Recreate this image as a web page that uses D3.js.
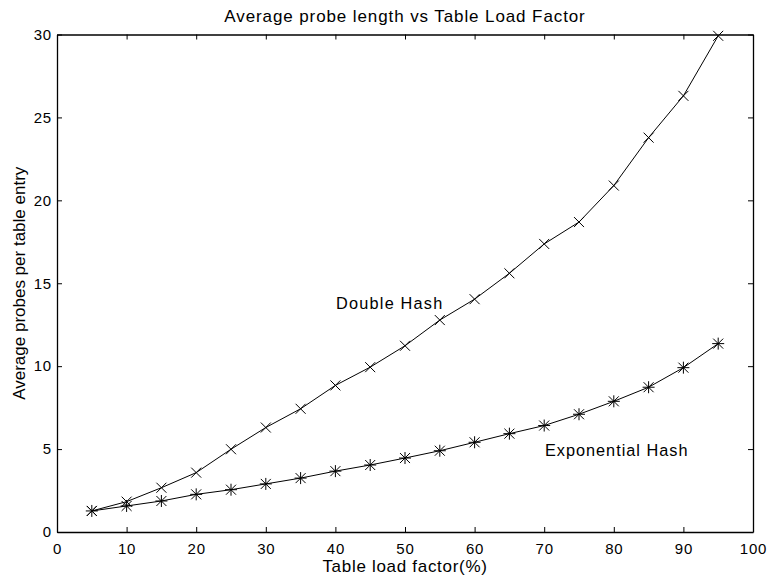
<!DOCTYPE html>
<html>
<head>
<meta charset="utf-8">
<script src="https://cdn.jsdelivr.net/npm/d3@7"></script>
<style>
  body { margin: 0; background: #fff; }
  text { font-family: "Liberation Sans", Arial, sans-serif; fill: #000; }
</style>
</head>
<body>
<div id="chart"></div>
<script>
// ====================
// Data
// ====================
const loadFactor = [5, 10, 15, 20, 25, 30, 35, 40, 45, 50, 55, 60, 65, 70, 75, 80, 85, 90, 95];
const doubleHash = [1.27, 1.83, 2.67, 3.58, 4.99, 6.3, 7.43, 8.84, 9.94, 11.23, 12.78, 14.04, 15.6, 17.37, 18.69, 20.89, 23.78, 26.3, 29.92];
const expHash    = [1.27, 1.57, 1.87, 2.27, 2.55, 2.9, 3.25, 3.67, 4.04, 4.46, 4.9, 5.41, 5.93, 6.42, 7.1, 7.88, 8.73, 9.91, 11.36];
const xTicks = [0, 10, 20, 30, 40, 50, 60, 70, 80, 90, 100];
const yTicks = [0, 5, 10, 15, 20, 25, 30];

const width = 770, height = 580;
const margin = { left: 57, right: 17, top: 34.5, bottom: 48 };

const svg = d3.select("#chart")
    .append("svg")
    .attr("width", width)
    .attr("height", height);

const x = d3.scaleLinear().domain([0, 100]).range([margin.left, width - margin.right]);
const y = d3.scaleLinear().domain([0, 30]).range([height - margin.bottom, margin.top]);

// Axes (ticks point inward, box on all four sides)
const tickLen = 5;
const fmt = d3.format("d");

const gBottom = svg.append("g")
    .attr("transform", `translate(0,${y(0)})`)
    .call(d3.axisBottom(x).tickValues(xTicks).tickSizeInner(-tickLen).tickSizeOuter(0).tickPadding(11).tickFormat(fmt));
const gTop = svg.append("g")
    .attr("transform", `translate(0,${y(30)})`)
    .call(d3.axisTop(x).tickValues(xTicks).tickSizeInner(-tickLen).tickSizeOuter(0).tickFormat(""));
const gLeft = svg.append("g")
    .attr("transform", `translate(${x(0)},0)`)
    .call(d3.axisLeft(y).tickValues(yTicks).tickSizeInner(-tickLen).tickSizeOuter(0).tickPadding(5).tickFormat(fmt));
const gRight = svg.append("g")
    .attr("transform", `translate(${x(100)},0)`)
    .call(d3.axisRight(y).tickValues(yTicks).tickSizeInner(-tickLen).tickSizeOuter(0).tickFormat(""));

[gBottom, gTop, gLeft, gRight].forEach(g => {
    g.select(".domain").attr("stroke", "#000").attr("stroke-width", 1.3);
    g.selectAll(".tick line").attr("stroke", "#000");
    g.selectAll(".tick text")
        .attr("font-size", 15)
        .attr("letter-spacing", 0.8)
        .attr("font-family", "Liberation Sans, Arial, sans-serif");
});

// Labels
svg.append("text")
    .attr("x", (x(0) + x(100)) / 2)
    .attr("y", 22)
    .attr("text-anchor", "middle")
    .attr("font-size", 17)
    .attr("letter-spacing", 0.9)
    .text("Average probe length vs Table Load Factor");

svg.append("text")
    .attr("x", (x(0) + x(100)) / 2)
    .attr("y", 572)
    .attr("text-anchor", "middle")
    .attr("font-size", 17)
    .attr("letter-spacing", 0.7)
    .text("Table load factor(%)");

svg.append("text")
    .attr("transform", `translate(25,${(y(0) + y(30)) / 2}) rotate(-90)`)
    .attr("text-anchor", "middle")
    .attr("font-size", 17)
    .text("Average probes per table entry");

// Lines
const line = d3.line()
    .x(d => x(d[0]))
    .y(d => y(d[1]));

const seriesDouble = loadFactor.map((lf, i) => [lf, doubleHash[i]]);
const seriesExp = loadFactor.map((lf, i) => [lf, expHash[i]]);

[seriesDouble, seriesExp].forEach(s => {
    svg.append("path")
        .datum(s)
        .attr("d", line)
        .attr("fill", "none")
        .attr("stroke", "#000")
        .attr("stroke-width", 1);
});

// Markers: x for double hash, * for exponential hash
const m = 5;
svg.append("g").selectAll("path")
    .data(seriesDouble)
    .join("path")
    .attr("transform", d => `translate(${x(d[0])},${y(d[1])})`)
    .attr("d", `M${-m},${-m}L${m},${m}M${-m},${m}L${m},${-m}`)
    .attr("stroke", "#000")
    .attr("stroke-width", 1);

svg.append("g").selectAll("path")
    .data(seriesExp)
    .join("path")
    .attr("transform", d => `translate(${x(d[0])},${y(d[1])})`)
    .attr("d", `M${-m},${-m}L${m},${m}M${-m},${m}L${m},${-m}M0,${-m - 1}L0,${m + 1}M${-m - 1},0L${m + 1},0`)
    .attr("stroke", "#000")
    .attr("stroke-width", 1);

// Annotations
svg.append("text")
    .attr("x", x(40.1))
    .attr("y", y(13.45))
    .attr("font-size", 16.3)
    .attr("letter-spacing", 1.2)
    .text("Double Hash");

svg.append("text")
    .attr("x", x(70.1))
    .attr("y", y(4.58))
    .attr("font-size", 16.3)
    .attr("letter-spacing", 1.0)
    .text("Exponential Hash");
</script>
</body>
</html>
